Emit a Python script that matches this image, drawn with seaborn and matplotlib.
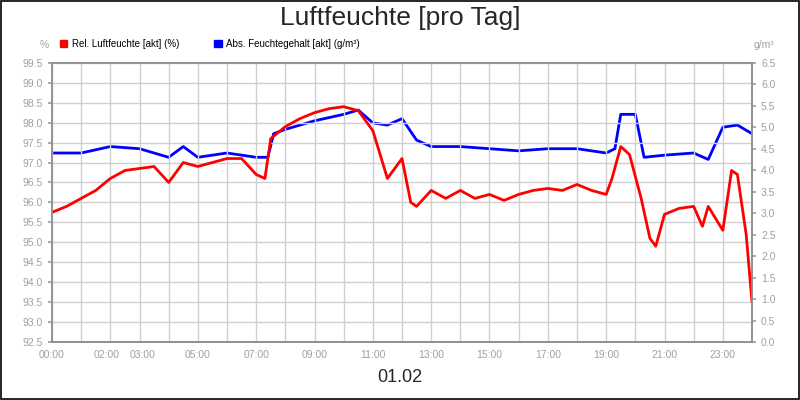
import matplotlib
matplotlib.use("Agg")
import matplotlib.pyplot as plt
import seaborn as sns
import pandas as pd

# --- DATI ---
rel_hours = [0, 0.5, 1, 1.5, 2, 2.5, 3, 3.5, 4, 4.5, 5, 5.5, 6, 6.5, 7, 7.3, 7.5, 8, 8.5, 9,
             9.5, 10, 10.5, 11, 11.5, 12, 12.3, 12.5, 13, 13.5, 14, 14.5, 15, 15.5, 16, 16.5,
             17, 17.5, 18, 18.5, 19, 19.2, 19.5, 19.8, 20.2, 20.5, 20.7, 21, 21.5, 22, 22.3,
             22.5, 23, 23.3, 23.5, 23.8, 24]
rel_values = [95.75, 95.9, 96.1, 96.3, 96.6, 96.8, 96.85, 96.9, 96.5, 97.0, 96.9, 97.0, 97.1,
              97.1, 96.7, 96.6, 97.6, 97.9, 98.1, 98.25, 98.35, 98.4, 98.3, 97.8, 96.6, 97.1,
              96.0, 95.9, 96.3, 96.1, 96.3, 96.1, 96.2, 96.05, 96.2, 96.3, 96.35, 96.3, 96.45,
              96.3, 96.2, 96.6, 97.4, 97.2, 96.1, 95.1, 94.9, 95.7, 95.85, 95.9, 95.4, 95.9,
              95.3, 96.8, 96.7, 95.2, 93.5]
abs_hours = [0, 1, 2, 3, 4, 4.5, 5, 6, 7, 7.4, 7.6, 8, 9, 10, 10.5, 11, 11.5, 12, 12.5, 13,
             14, 15, 16, 17, 18, 19, 19.3, 19.5, 20, 20.3, 21, 22, 22.5, 23, 23.5, 24]
abs_values = [4.4, 4.4, 4.55, 4.5, 4.3, 4.55, 4.3, 4.4, 4.3, 4.3, 4.85, 4.95, 5.15, 5.3, 5.4,
              5.1, 5.05, 5.2, 4.7, 4.55, 4.55, 4.5, 4.45, 4.5, 4.5, 4.4, 4.5, 5.3, 5.3, 4.3,
              4.35, 4.4, 4.25, 5.0, 5.05, 4.85]
xtick_pos = [0, 2, 3, 5, 7, 9, 11, 13, 15, 17, 19, 21, 23]
xtick_labels = ["00:00", "02:00", "03:00", "05:00", "07:00", "09:00", "11:00", "13:00",
                "15:00", "17:00", "19:00", "21:00", "23:00"]

sns.set_theme(style="white", font="Liberation Sans")
grey = "#a0a0a0"

fig = plt.figure(figsize=(8, 4), dpi=100)
ax = fig.add_axes([0.065, 0.145, 0.875, 0.698])
ax2 = ax.twinx()

df_rel = pd.DataFrame({"h": rel_hours, "v": rel_values})
df_abs = pd.DataFrame({"h": abs_hours, "v": abs_values})
sns.lineplot(data=df_rel, x="h", y="v", ax=ax, color="#ff0000", lw=2)
sns.lineplot(data=df_abs, x="h", y="v", ax=ax2, color="#0000ff", lw=2)
ax.set_zorder(ax2.get_zorder() + 1)
ax.patch.set_visible(False)

ax.set_xlim(0, 24)
ax.set_ylim(92.5, 99.5)
ax2.set_ylim(0, 6.5)
ax.set_yticks([92.5 + 0.5 * i for i in range(15)])
ax2.set_yticks([0.5 * i for i in range(14)])
ax.set_xticks(range(25))
ax.set_xticklabels([""] * 25)
for p, l in zip(xtick_pos, xtick_labels):
    off = -0.12 if p == 2 else (0.12 if p == 3 else 0)
    ax.text(p + off, 92.3, l, ha="center", va="top", fontsize=7.5, color=grey)
ax.grid(True, color="#d0d0d0", lw=1)
for a in (ax, ax2):
    a.tick_params(labelsize=7.5, labelcolor=grey, length=3, color=grey)
    a.set_xlabel("")
    a.set_ylabel("")
    for s in a.spines.values():
        s.set_color("#909090")
ax.set_yticklabels([f"{v:.1f}" for v in ax.get_yticks()])
ax2.set_yticklabels([f"{v:.1f}" for v in ax2.get_yticks()])

fig.text(0.5, 0.955, "Luftfeuchte [pro Tag]", ha="center", va="center", fontsize=19)
fig.text(0.5, 0.055, "01.02", ha="center", va="center", fontsize=13)
fig.text(0.055, 0.88, "%", ha="center", fontsize=7.5, color=grey)
fig.text(0.955, 0.88, "g/m³", ha="center", fontsize=7.5, color=grey)
fig.patches.append(plt.Rectangle((0.075, 0.882), 0.009, 0.018, color="#ff0000", transform=fig.transFigure))
fig.text(0.09, 0.883, "Rel. Luftfeuchte [akt] (%)", fontsize=7, color="black")
fig.patches.append(plt.Rectangle((0.268, 0.882), 0.009, 0.018, color="#0000ff", transform=fig.transFigure))
fig.text(0.283, 0.883, "Abs. Feuchtegehalt [akt] (g/m³)", fontsize=7, color="black")
fig.patches.append(plt.Rectangle((0.001, 0.002), 0.998, 0.996, fill=False, ec="black", lw=1.2, transform=fig.transFigure))

fig.savefig("out.png", dpi=100)
